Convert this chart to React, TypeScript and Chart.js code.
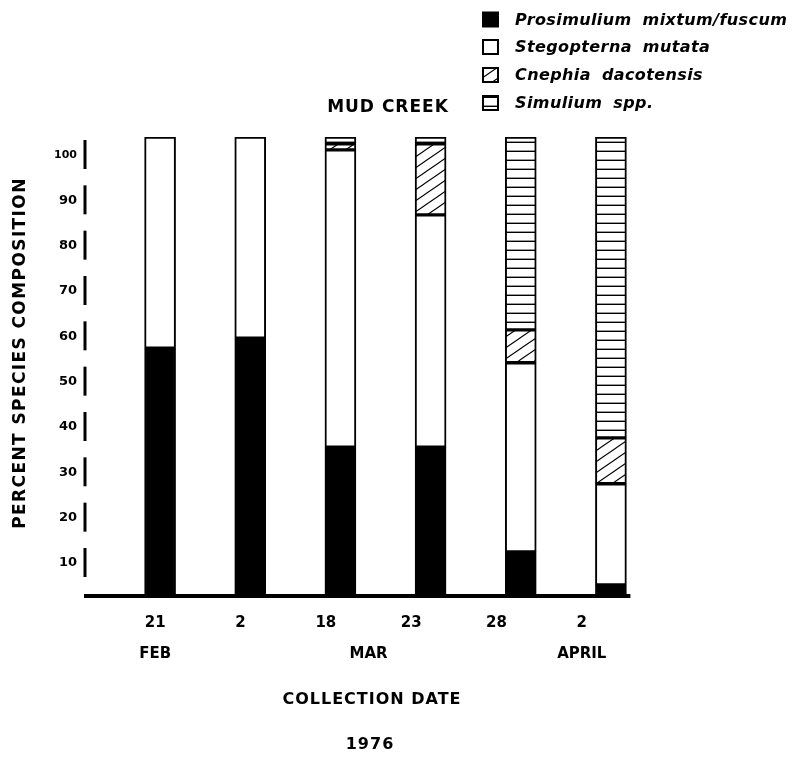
import React, { useEffect, useRef } from 'react';
import { Chart, registerables } from 'chart.js';

Chart.register(...registerables);

// ---- data ----
const dayLabels = ['21', '2', '18', '23', '28', '2'];
const monthLabels = ['FEB', 'MAR', 'APRIL'];
const monthTickAt = [0, 2.5, 5];
const yTickValues = [10, 20, 30, 40, 50, 60, 70, 80, 90, 100];
const seriesNames = ['Prosimulium mixtum/fuscum', 'Stegopterna mutata', 'Cnephia dacotensis', 'Simulium spp.'];
const prosimulium = [53.9, 56.1, 32.3, 32.3, 9.4, 2.2];
const stegopterna = [46.1, 43.9, 64.9, 50.7, 41.3, 22.1];
const cnephia = [null, null, 1.3, 15.5, 7.2, 10.0];
const simulium = [null, null, 1.5, 1.5, 42.1, 65.7];
const chartTitle = 'MUD CREEK';
const yAxisTitle = 'PERCENT SPECIES COMPOSITION';
const xAxisTitle = ['COLLECTION DATE', '1976'];

const FONT = '"DejaVu Sans", "Liberation Sans", sans-serif';

function makeHatch(ctx: CanvasRenderingContext2D) {
  const w = 16, h = 11;
  const c = document.createElement('canvas');
  c.width = w; c.height = h;
  const g = c.getContext('2d')!;
  g.fillStyle = '#fff';
  g.fillRect(0, 0, w, h);
  g.strokeStyle = '#000';
  g.lineWidth = 1.1;
  g.beginPath();
  for (let k = -1; k <= 1; k++) {
    g.moveTo(-2, h + k * h + (2 * h) / w);
    g.lineTo(w + 2, k * h - (2 * h) / w);
  }
  g.stroke();
  return ctx.createPattern(c, 'repeat')!;
}

function makeStripes(ctx: CanvasRenderingContext2D) {
  const w = 4, h = 9;
  const c = document.createElement('canvas');
  c.width = w; c.height = h;
  const g = c.getContext('2d')!;
  g.fillStyle = '#fff';
  g.fillRect(0, 0, w, h);
  g.fillStyle = '#000';
  g.fillRect(0, h - 1.4, w, 1.4);
  return ctx.createPattern(c, 'repeat')!;
}

export default function App() {
  const ref = useRef<HTMLCanvasElement>(null);

  useEffect(() => {
    const canvas = ref.current!;
    const ctx = canvas.getContext('2d')!;
    const fills: any[] = ['#000000', '#ffffff', makeHatch(ctx), makeStripes(ctx)];
    const seriesValues = [prosimulium, stegopterna, cnephia, simulium];

    const decor = {
      id: 'decor',
      afterDraw(chart: any) {
        const c = chart.ctx as CanvasRenderingContext2D;
        const area = chart.chartArea;
        const yScale = chart.scales.yPct;
        c.save();
        // axis dashes
        c.strokeStyle = '#000';
        c.lineWidth = 3;
        c.lineCap = 'butt';
        const dashX = yScale.right - 30;
        yTickValues.forEach((v) => {
          const py = yScale.getPixelForValue(v);
          c.beginPath();
          c.moveTo(dashX, py - 15);
          c.lineTo(dashX, py + 14);
          c.stroke();
        });
        // baseline
        const meta = chart.getDatasetMeta(0);
        const last = meta.data[meta.data.length - 1];
        c.lineWidth = 4;
        c.beginPath();
        c.moveTo(dashX - 1, area.bottom + 1);
        c.lineTo(last.x + last.width / 2 + 4, area.bottom + 1);
        c.stroke();

        // titles
        c.fillStyle = '#000';
        c.textAlign = 'center';
        c.textBaseline = 'middle';
        (c as any).letterSpacing = '1px';
        c.font = `bold 17px ${FONT}`;
        c.fillText(chartTitle, 380, 100);
        c.font = `bold 16px ${FONT}`;
        c.fillText(xAxisTitle[0], 364, 692);
        c.fillText(xAxisTitle[1], 362, 737);
        c.save();
        c.translate(13, 345);
        c.rotate(-Math.PI / 2);
        c.font = `bold 17px ${FONT}`;
        (c as any).letterSpacing = '1.4px';
        c.fillText(yAxisTitle, 0, 0);
        c.restore();

        // legend
        const rowsY = [11.5, 39, 67, 95];
        chart.data.datasets.forEach((ds: any, i: number) => {
          const y = rowsY[i];
          c.fillStyle = ds.backgroundColor;
          c.fillRect(475, y - 7, 15, 14);
          c.lineWidth = 2;
          c.strokeStyle = '#000';
          c.strokeRect(475, y - 7, 15, 14);
          c.fillStyle = '#000';
          c.textAlign = 'left';
          c.font = `italic bold 16px ${FONT}`;
          (c as any).letterSpacing = '0.4px';
          (c as any).wordSpacing = '5px';
          c.fillText(ds.label, 507, y + 1);
        });
        c.restore();
      },
    };

    const chart = new Chart(ctx, {
      type: 'bar',
      data: {
        labels: dayLabels,
        datasets: seriesNames.map((name, i) => ({
          label: name,
          data: seriesValues[i] as any,
          backgroundColor: fills[i],
          borderColor: '#000',
          borderWidth: 2,
          borderSkipped: false,
          barThickness: 31,
          stack: 's',
        })),
      },
      options: {
        animation: false,
        responsive: false,
        events: [],
        layout: { padding: { top: 129, right: 142, bottom: 87, left: 0 } },
        plugins: { legend: { display: false }, tooltip: { enabled: false }, title: { display: false } },
        scales: {
          x: { type: 'category', stacked: true, display: false },
          y: { type: 'linear', stacked: true, min: 0, max: 100, display: false },
          xDay: {
            type: 'linear',
            axis: 'x',
            position: 'bottom',
            weight: 1,
            offset: false,
            min: -0.472,
            max: 5.87,
            grid: { display: false, drawTicks: false, offset: false },
            border: { display: false },
            afterBuildTicks: (s: any) => {
              s.ticks = dayLabels.map((_, i) => ({ value: i }));
            },
            afterFit: (s: any) => {
              s.height = 37;
            },
            ticks: {
              autoSkip: false,
              maxRotation: 0,
              padding: 19,
              color: '#000',
              font: { family: FONT, size: 15, weight: 'bold' },
              callback: (_v: any, i: number) => dayLabels[i],
            },
          },
          xMonth: {
            type: 'linear',
            axis: 'x',
            position: 'bottom',
            weight: 2,
            offset: false,
            min: -0.472,
            max: 5.87,
            grid: { display: false, drawTicks: false, offset: false },
            border: { display: false },
            afterBuildTicks: (s: any) => {
              s.ticks = monthTickAt.map((v) => ({ value: v }));
            },
            afterFit: (s: any) => {
              s.height = 31;
            },
            ticks: {
              autoSkip: false,
              maxRotation: 0,
              padding: 13,
              color: '#000',
              font: { family: FONT, size: 15, weight: 'bold' },
              callback: (_v: any, i: number) => monthLabels[i],
            },
          },
          yPct: {
            type: 'linear',
            axis: 'y',
            position: 'left',
            min: 2.94,
            max: 103.97,
            grid: { display: false, drawTicks: false },
            border: { display: false },
            afterBuildTicks: (s: any) => {
              s.ticks = yTickValues.map((v) => ({ value: v }));
            },
            afterFit: (s: any) => {
              s.width = 107;
            },
            ticks: {
              autoSkip: false,
              padding: 38,
              color: '#000',
              font: (c: any) => ({ family: FONT, size: c.tick && c.tick.value === 100 ? 11 : 13, weight: 'bold' }),
              callback: (v: any) => String(v),
            },
          },
        },
      } as any,
      plugins: [decor],
    });
    return () => chart.destroy();
  }, []);

  return (
    <div style={{ width: 790, height: 742 }}>
      <canvas ref={ref} width={790} height={742} style={{ display: 'block' }} />
    </div>
  );
}
